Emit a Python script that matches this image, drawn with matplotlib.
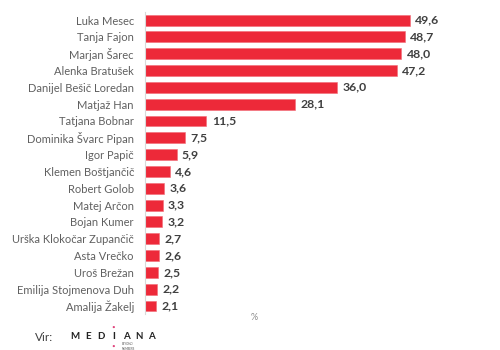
import matplotlib
matplotlib.use("Agg")
import matplotlib.pyplot as plt

names = ["Luka Mesec", "Tanja Fajon", "Marjan Šarec", "Alenka Bratušek",
         "Danijel Bešič Loredan", "Matjaž Han", "Tatjana Bobnar",
         "Dominika Švarc Pipan", "Igor Papič", "Klemen Boštjančič",
         "Robert Golob", "Matej Arčon", "Bojan Kumer", "Urška Klokočar Zupančič",
         "Asta Vrečko", "Uroš Brežan", "Emilija Stojmenova Duh", "Amalija Žakelj"]
values = [49.6, 48.7, 48.0, 47.2, 36.0, 28.1, 11.5, 7.5, 5.9, 4.6,
          3.6, 3.3, 3.2, 2.7, 2.6, 2.5, 2.2, 2.1]

plt.rcParams['font.family'] = ['Lato', 'DejaVu Sans']

fig = plt.figure(figsize=(5, 3.5), dpi=100)
ax = fig.add_axes([0.29, 0.1017, 0.66, 0.865])

pos = list(range(len(names)))
ax.barh(pos, values, height=0.65, color='#ED2939', edgecolor='#F26A76', linewidth=0.4)
for p, v in zip(pos, values):
    ax.text(v + 1.0, p, f"{v:.1f}".replace(".", ","), va='center', ha='left',
            fontsize=8.8, fontweight='bold', color='#404040')

ax.set_ylim(len(names) - 0.5, -0.5)
ax.set_xlim(0, 61.8)
ax.set_yticks(pos)
ax.set_yticklabels(names, fontsize=8, color='#606060')
ax.tick_params(axis='y', length=0, pad=8)
ax.set_xticks([])
for s in ['top', 'right', 'bottom']:
    ax.spines[s].set_visible(False)
ax.spines['left'].set_color('#d9d9d9')
ax.spines['left'].set_linewidth(0.8)

fig.text(0.508, 0.094, "%", fontsize=6.5, color='#8c8c8c', ha='center', va='center')

# source line with logo text
fig.text(0.07, 0.037, "Vir:", fontsize=8.5, color='#404040', ha='left', va='center')
logo = "MEDIANA"
for i, ch in enumerate(logo):
    fig.text(0.150 + i * 0.0255, 0.039, ch, fontsize=7, fontweight='bold',
             color='#222222', ha='center', va='center')
fig.text(0.2265, 0.066, "•", fontsize=4.5, color='#E0417A', ha='center', va='center')
fig.text(0.2265, 0.011, "•", fontsize=4.5, color='#E0417A', ha='center', va='center')
fig.text(0.243, 0.010, "BEYOND\nNUMBERS", fontsize=2, color='#555555', ha='left', va='center')

fig.savefig("out.png", dpi=100)
